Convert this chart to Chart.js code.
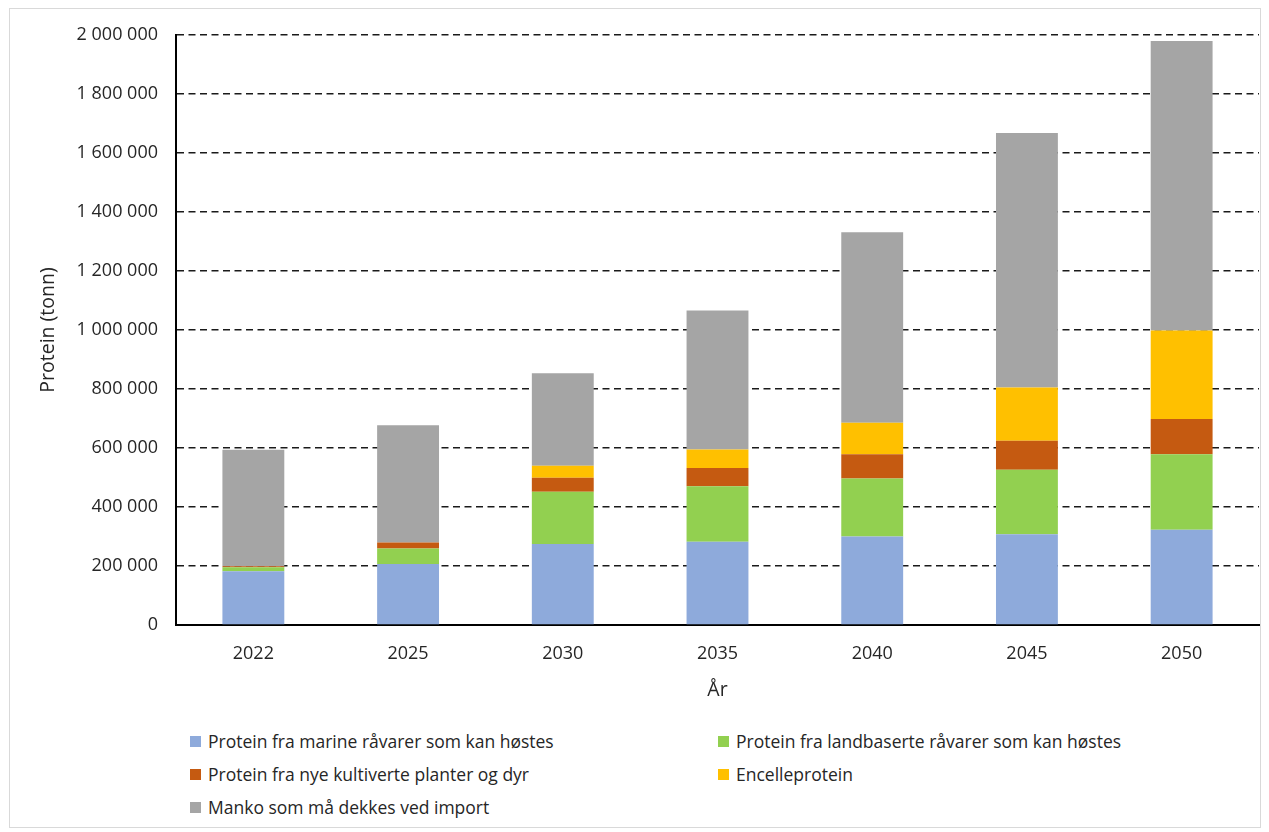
<!DOCTYPE html>
<html lang="no">
<head>
  <meta charset="UTF-8" />
  <title>Protein (tonn) per år</title>
  <script src="https://cdn.jsdelivr.net/npm/chart.js"></script>
  <style>
    * { margin: 0; padding: 0; box-sizing: border-box; }
    body {
      width: 1269px;
      height: 832px;
      background: #fff;
      font-family: 'Open Sans', 'Liberation Sans', sans-serif;
      position: relative;
      overflow: hidden;
    }
    .frame {
      position: absolute;
      left: 9px; top: 8px; right: 8px; bottom: 4px;
      border: 1px solid #d9d9d9;
    }
    .chart-box {
      position: absolute;
      left: 0; top: 0;
      width: 1269px; height: 702px;
    }
    #legend {
      position: absolute;
      left: 190px; top: 730px;
      display: grid;
      grid-template-columns: 528px 500px;
      row-gap: 11px;
      font-size: 17.5px;
      color: #262626;
    }
    #legend .item { display: flex; align-items: center; height: 22px; }
    #legend .box { width: 11px; height: 11px; margin-right: 7px; }
  </style>
</head>
<body>
  <div class="frame"></div>
  <div class="chart-box"><canvas id="chart"></canvas></div>
  <div id="legend"></div>

  <script>
    const years = ['2022', '2025', '2030', '2035', '2040', '2045', '2050'];

    // tonn protein per kilde
    const marine     = [182000, 207000, 275000, 282000, 300000, 308000, 323000];
    const landbasert = [14000, 52000, 177000, 188000, 197000, 218000, 256000];
    const kultivert  = [3000, 21000, 47000, 62000, 82000, 99000, 119000];
    const encelle    = [0, 0, 41000, 63000, 107000, 180000, 300000];
    const manko      = [395000, 397000, 313000, 471000, 645000, 863000, 982000];

    const yTicks = [0, 200000, 400000, 600000, 800000, 1000000, 1200000, 1400000, 1600000, 1800000, 2000000];

    const series = [
      { label: 'Protein fra marine råvarer som kan høstes', data: marine, color: '#8eaadb' },
      { label: 'Protein fra landbaserte råvarer som kan høstes', data: landbasert, color: '#92d050' },
      { label: 'Protein fra nye kultiverte planter og dyr', data: kultivert, color: '#c55a11' },
      { label: 'Encelleprotein', data: encelle, color: '#ffc000' },
      { label: 'Manko som må dekkes ved import', data: manko, color: '#a5a5a5' }
    ];

    function fmt(v) {
      return String(v).replace(/\B(?=(\d{3})+(?!\d))/g, ' ');
    }

    const family = "'Open Sans', 'Liberation Sans', sans-serif";
    const tickFont = { family: family, size: 18 };

    new Chart(document.getElementById('chart'), {
      type: 'bar',
      data: {
        labels: years,
        datasets: series.map(s => ({
          label: s.label,
          data: s.data,
          backgroundColor: s.color,
          borderWidth: 0,
          categoryPercentage: 1,
          barPercentage: 0.40
        }))
      },
      options: {
        responsive: true,
        maintainAspectRatio: false,
        animation: false,
        layout: { padding: { top: 35, right: 10, left: 37, bottom: 0 } },
        plugins: {
          legend: { display: false },
          tooltip: { enabled: false }
        },
        scales: {
          x: {
            stacked: true,
            grid: { display: false, drawTicks: false },
            border: { display: true, color: '#000', width: 2 },
            ticks: { color: '#262626', font: tickFont, padding: 18 },
            title: { display: true, text: 'År', color: '#262626', font: { family: family, size: 19.5 }, padding: { top: 4, bottom: 0 } },
            afterFit: s => { s.height = 77; }
          },
          y: {
            stacked: true,
            min: 0,
            max: 2000000,
            afterBuildTicks: s => { s.ticks = yTicks.map(v => ({ value: v })); },
            grid: { color: '#1a1a1a', lineWidth: 1.6, drawTicks: false },
            border: { display: true, color: '#000', width: 2, dash: [7, 4.5] },
            ticks: { color: '#262626', font: tickFont, padding: 18, callback: v => fmt(v) },
            title: { display: true, text: 'Protein (tonn)', color: '#262626', font: { family: family, size: 19.5 }, padding: { top: 0, bottom: 4 } },
            afterFit: s => { s.width = 139; }
          }
        }
      }
    });

    // legend in two columns
    const legend = document.getElementById('legend');
    series.forEach(s => {
      const item = document.createElement('div');
      item.className = 'item';
      const box = document.createElement('span');
      box.className = 'box';
      box.style.background = s.color;
      const text = document.createElement('span');
      text.textContent = s.label;
      item.appendChild(box);
      item.appendChild(text);
      legend.appendChild(item);
    });
  </script>
</body>
</html>
